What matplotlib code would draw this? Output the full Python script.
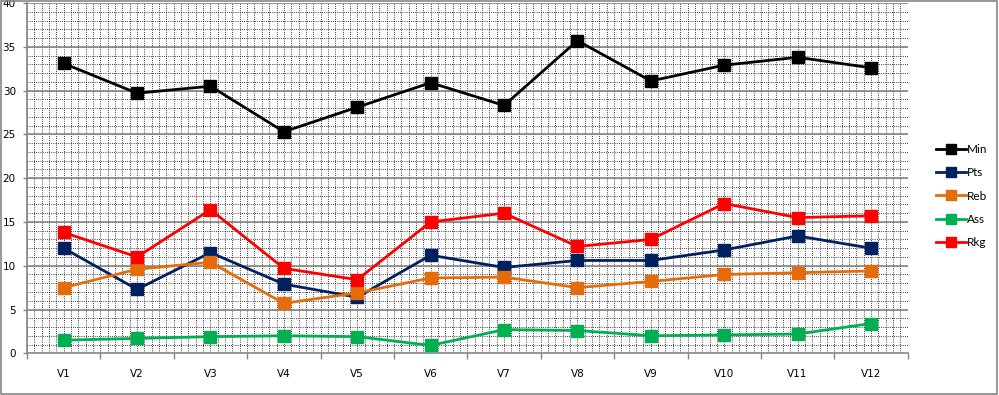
import numpy as np
import matplotlib
matplotlib.use("Agg")
import matplotlib.pyplot as plt
from matplotlib.patches import Rectangle

plt.rcParams['font.family'] = ['DejaVu Sans']

categories = ['V1', 'V2', 'V3', 'V4', 'V5', 'V6', 'V7', 'V8', 'V9', 'V10', 'V11', 'V12']
min_vals = [33.1, 29.7, 30.5, 25.3, 28.1, 30.9, 28.3, 35.7, 31.1, 32.9, 33.8, 32.6]
pts_vals = [12.0, 7.3, 11.5, 7.9, 6.4, 11.2, 9.8, 10.6, 10.6, 11.8, 13.4, 12.0]
reb_vals = [7.5, 9.6, 10.4, 5.7, 6.9, 8.6, 8.7, 7.5, 8.2, 9.0, 9.2, 9.4]
ass_vals = [1.5, 1.7, 1.9, 2.0, 1.9, 0.9, 2.7, 2.6, 2.0, 2.1, 2.2, 3.4]
rkg_vals = [13.8, 11.0, 16.4, 9.7, 8.4, 15.0, 16.0, 12.2, 13.0, 17.1, 15.5, 15.7]

series = [
    ('Min', min_vals, '#000000'),
    ('Pts', pts_vals, '#002060'),
    ('Reb', reb_vals, '#E46C0A'),
    ('Ass', ass_vals, '#00B050'),
    ('Rkg', rkg_vals, '#FF0000'),
]

fig = plt.figure(figsize=(9.99, 3.95), dpi=100)
ax = fig.add_axes([0.027, 0.1056, 0.8816, 0.8868])

x = np.arange(len(categories))
for name, vals, col in series:
    ax.plot(x, vals, color=col, lw=2, marker='s', markersize=8, label=name, zorder=5)

ax.set_xlim(-0.5, len(categories) - 0.5)
ax.set_ylim(0, 40)

# dotted minor grid
ax.vlines(np.arange(-0.5, len(categories) - 0.45, 0.1), 0, 40,
          colors='black', linestyles=(0, (1, 1.6)), lw=0.6, zorder=1)
ax.hlines(np.arange(1, 40, 1), -0.5, len(categories) - 0.5,
          colors='black', linestyles=(0, (1, 1.6)), lw=0.6, zorder=1)
# solid major grid
ax.hlines(np.arange(5, 41, 5), -0.5, len(categories) - 0.5,
          colors='#868686', lw=1.2, zorder=2)

ax.set_yticks(np.arange(0, 41, 5))
ax.set_xticks(x)
ax.set_xticklabels(categories)
ax.set_xticks(np.arange(-0.5, len(categories), 1), minor=True)
ax.tick_params(axis='x', which='major', length=0, pad=11, labelsize=7.5)
ax.tick_params(axis='x', which='minor', length=4, color='#868686', width=1)
ax.tick_params(axis='y', length=3, color='#868686', width=1, labelsize=7.5, pad=5)

for s in ['top', 'right']:
    ax.spines[s].set_visible(False)
for s in ['left', 'bottom']:
    ax.spines[s].set_color('#868686')
    ax.spines[s].set_linewidth(1.2)

leg = fig.legend(loc='upper left', bbox_to_anchor=(0.932, 0.648), frameon=False,
                 handlelength=2.6, handletextpad=0.0, labelspacing=1.05,
                 markerscale=0.85, borderaxespad=0,
                 prop={'family': 'Lato', 'size': 8.5})

fig.add_artist(Rectangle((0.001, 0.002), 0.997, 0.996, transform=fig.transFigure,
                         fill=False, edgecolor='#868686', lw=1.2))

fig.savefig('out.png', dpi=100)
